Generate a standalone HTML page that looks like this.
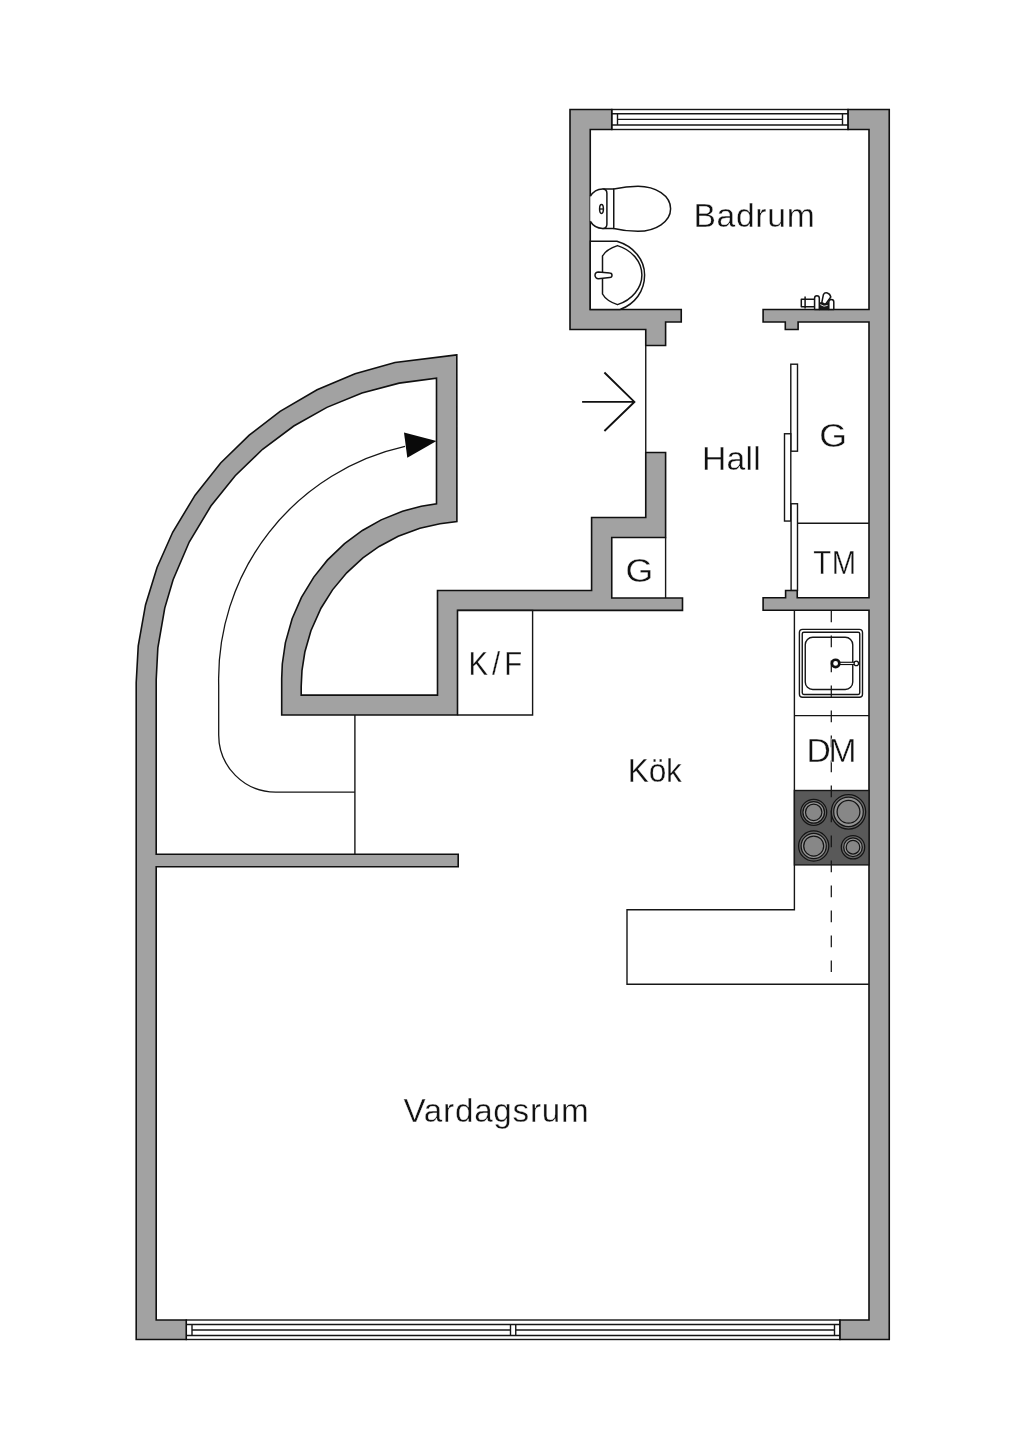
<!DOCTYPE html>
<html lang="sv">
<head>
<meta charset="utf-8">
<title>Planritning</title>
<style>
html,body{margin:0;padding:0;background:#fff;}
body{width:1024px;height:1448px;overflow:hidden;}
svg{display:block;}
text{font-family:"Liberation Sans",sans-serif;fill:#111;stroke:#fff;stroke-width:0.35px;}
.w{fill:#a2a2a2;stroke:#101010;stroke-width:1.6;stroke-linejoin:miter;}
.l{fill:none;stroke:#161616;stroke-width:1.4;}
.t{fill:none;stroke:#161616;stroke-width:1.3;}
.wf{fill:#fff;stroke:#161616;stroke-width:1.4;}
.f{fill:#fff;stroke:#141414;stroke-width:1.5;}
</style>
</head>
<body>
<svg width="1024" height="1448" viewBox="0 0 1024 1448">
<rect width="1024" height="1448" fill="#fff"/>

<!-- windows -->
<g class="wf">
<rect x="611.75" y="109.5" width="236.35" height="20"/>
<rect x="186.25" y="1320" width="653.75" height="19.5"/>
</g>
<g class="l">
<path d="M611.75 113.75H848.1M611.75 125H848.1M617.5 119.4H842.5M617.5 113.75V125M842.5 113.75V125"/>
<path d="M186.25 1324.5H840M186.25 1335.5H840M192 1330H510.5M515.75 1330H834.5M192 1324.5V1335.5M834.5 1324.5V1335.5M510.5 1324.5V1335.5M515.75 1324.5V1335.5"/>
</g>

<!-- walls -->
<polygon class="w" points="570,109.5 611.75,109.5 611.75,129.5 590.25,129.5 590.25,309.5 681.25,309.5 681.25,322 665.6,322 665.6,345.5 645.75,345.5 645.75,329.5 570,329.5"/>
<polygon class="w" points="848.1,109.5 889.25,109.5 889.25,1339.5 840,1339.5 840,1320 869,1320 869,610.3 763.1,610.3 763.1,597.75 785.6,597.75 785.6,590.5 797.25,590.5 797.25,597.75 869,597.75 869,322 798.1,322 798.1,329.5 785.3,329.5 785.3,322 763.1,322 763.1,309.5 869,309.5 869,129.5 848.1,129.5"/>
<path class="w" d="M456.80 354.90L395.01 362.51L355.04 373.74L317.10 389.79L280.09 411.43L249.23 435.08L220.65 463.05L195.11 495.14L172.68 532.29L157.05 567.48L145.51 604.93L138.24 645.93L136.20 682.40L136.2 1339.5L186.25 1339.5L186.25 1320L156.2 1320L156.2 866.8L458.2 866.8L458.2 854.3L156.2 854.3L156.20 679.40L157.85 647.92L164.74 608.08L173.09 579.79L189.22 542.06L210.88 506.06L235.20 475.70L262.58 449.27L293.78 426.03L326.89 407.38L361.99 393.06L399.13 383.15L436.50 378.10L436.50 503.75L421.23 506.16L402.50 511.24L381.19 519.87L362.39 530.43L344.55 543.60L327.37 560.14L313.80 577.10L301.46 597.42L292.13 618.77L285.40 642.60L282.30 664.01L281.70 678.50L281.7 715L457.5 715L457.5 610.4L682.5 610.4L682.5 598L611.75 598L611.75 537.5L665.6 537.5L665.6 452.5L645.75 452.5L645.75 517.5L591.6 517.5L591.6 590.5L437.5 590.5L437.5 695.1L301.2 695.1L301.20 686.50L301.97 670.62L304.85 652.02L310.92 630.74L320.97 608.23L332.51 589.85L346.71 572.79L362.92 557.92L379.14 546.45L398.20 536.29L419.87 528.29L440.00 523.76L456.90 521.50Z"/>

<!-- thin interior lines -->
<g class="l">
<path d="M645.75 345.5V452.5"/>
<path d="M665.6 537.5V598"/>
<path d="M457.5 610.4H532.6V715H457.5"/>
<path d="M354.9 715V854.3"/>
<path d="M797.5 523.3H869"/>
<path d="M794.4 610.3V909.8H627V984.2H869"/>
<path d="M794.4 715.6H869"/>
</g>
<!-- sliding doors -->
<g class="wf">
<rect x="790.8" y="364.2" width="6.7" height="87"/>
<rect x="784.5" y="433.75" width="6.3" height="87.3"/>
<rect x="791.1" y="503.75" width="6.4" height="86.6"/>
</g>

<!-- stairs walk line -->
<path class="t" d="M405 446.4A238.2 238.2 0 0 0 218.7 685V735A57 57 0 0 0 275.7 792.1H354.9"/>
<polygon points="436.5,441 404,432.4 407.3,457.8" fill="#0a0a0a"/>

<!-- entrance arrow -->
<path d="M582.1 401.9H634.4M604.4 372.5L634.4 401.9L604.4 431" fill="none" stroke="#111" stroke-width="1.9"/>

<!-- toilet -->
<g class="f" stroke-linejoin="round">
<path d="M602.5 188.9H613.75V228.4H602.5"/>
<path d="M590.25 196.25C593 191.7 598 189 602.6 188.9C605.2 188.9 606.9 190.6 606.9 193.2V224.2C606.9 226.8 605.2 228.4 602.6 228.4C598 228.3 593 225.8 590.25 221.25"/>
<path d="M613.75 188.9C620 187.6 630 186.25 638 186.25C656 186.25 670.6 196 670.6 208.75C670.6 221.5 656 231.25 638 231.25C630 231.25 620 229.9 613.75 228.4Z"/>
<ellipse cx="601.5" cy="209" rx="1.9" ry="4.4" stroke-width="1.5"/>
<path d="M599.6 209H603.4" stroke-width="1.3"/>
</g>

<!-- washbasin -->
<g class="f">
<path d="M590.25 241.25H616.9C633 246 644.6 259 644.6 275C644.6 291 635 304 620 309.5H590.25Z"/>
<path d="M602.5 256V294C605 298.5 611 302.5 617.5 304.6C632 300 641.9 288 641.9 275C641.9 262 632 250 617.5 245.6C611 247.7 605 251.5 602.5 256Z"/>
<path d="M598.4 271.9L609.7 273A2.3 2.3 0 0 1 609.7 277.6L598.4 278.7A3.4 3.4 0 0 1 598.4 271.9Z"/>
</g>

<!-- shower mixer -->
<g class="f" stroke-width="1.6" stroke-linejoin="round">
<rect x="801.3" y="299.2" width="13.4" height="7.6"/>
<path d="M805.1 296.6V308.6"/>
<path d="M819.3 303H828.6V309.4H819.3Z" fill="#1a1a1a"/>
<path d="M820.3 304.6Q824 307.4 827.6 305.4" stroke="#ddd" stroke-width="1" fill="none"/>
<path d="M821.8 302.6L823.4 294.6C825 291.4 829.8 292.6 830.8 297L825.4 304.4Z"/>
<path d="M814.6 309.4V298.1A2.35 2.35 0 0 1 819.3 298.1V309.4Z"/>
<path d="M828.8 309.4V302A2.5 2.5 0 0 1 833.8 302V309.4Z"/>
</g>

<!-- kitchen sink -->
<g class="wf">
<rect x="799.4" y="629.4" width="63.1" height="67.9" rx="3.2"/>
<rect x="802.25" y="632.25" width="57.5" height="62.2" rx="1.6"/>
<rect x="805.25" y="637.25" width="47.5" height="52.2" rx="7.5"/>
</g>
<!-- stove -->
<rect x="794.4" y="790.5" width="74.6" height="74.4" fill="#595959" stroke="#161616" stroke-width="1.4"/>
<g stroke="#141414" stroke-width="1.25">
<circle cx="813.7" cy="812.3" r="13.0" fill="#686868"/><circle cx="813.7" cy="812.3" r="10.8" fill="#949494"/><circle cx="813.7" cy="812.3" r="8.2" fill="#878787"/>
<circle cx="848.5" cy="811.8" r="17.2" fill="#686868"/><circle cx="848.5" cy="811.8" r="14.8" fill="#949494"/><circle cx="848.5" cy="811.8" r="11.4" fill="#878787"/>
<circle cx="813.7" cy="846.0" r="15.1" fill="#686868"/><circle cx="813.7" cy="846.0" r="12.6" fill="#949494"/><circle cx="813.7" cy="846.0" r="10.0" fill="#878787"/>
<circle cx="853" cy="847.2" r="11.7" fill="#686868"/><circle cx="853" cy="847.2" r="9.3" fill="#949494"/><circle cx="853" cy="847.2" r="6.8" fill="#878787"/>
</g>
<!-- dashed centre line -->
<path d="M831.3 610.5V972" fill="none" stroke="#161616" stroke-width="1.25" stroke-dasharray="11.8 13.2"/>
<!-- tap -->
<g>
<path d="M835.6 663.4H856" stroke="#111" stroke-width="3.4" fill="none"/>
<path d="M838 663.4H855" stroke="#fff" stroke-width="1.1" fill="none"/>
<circle cx="835.6" cy="663.4" r="3.7" fill="#fff" stroke="#111" stroke-width="2.6"/>
<circle cx="856.3" cy="663.4" r="2.2" fill="#fff" stroke="#111" stroke-width="1.2"/>
</g>

<!-- labels -->
<g style="filter:grayscale(1)">
<text transform="translate(693.4 226.8) scale(1.02 1)" font-size="33" textLength="118.9" lengthAdjust="spacing">Badrum</text>
<text transform="translate(701.9 470.4) scale(1.02 1)" font-size="33" textLength="57.6" lengthAdjust="spacing">Hall</text>
<text transform="translate(819.2 447.1) scale(1.09 1)" font-size="32.8">G</text>
<text transform="translate(625.5 581.5) scale(1.09 1)" font-size="32.8">G</text>
<text transform="translate(813.3 573.85) scale(0.885 1)" font-size="33" textLength="48.5" lengthAdjust="spacing">TM</text>
<text transform="translate(468.5 675.2) scale(0.89 1)" font-size="33" textLength="60.3" lengthAdjust="spacing">K/F</text>
<text transform="translate(806.4 762.4) scale(1.02 1)" font-size="33" textLength="49.2" lengthAdjust="spacing">DM</text>
<text transform="translate(627.8 782.1) scale(0.96 1)" font-size="33" textLength="56.3" lengthAdjust="spacing">Kök</text>
<text transform="translate(403.4 1121.6) scale(1.02 1)" font-size="32.6" textLength="181.7" lengthAdjust="spacing">Vardagsrum</text>
</g>
</svg>
</body>
</html>
